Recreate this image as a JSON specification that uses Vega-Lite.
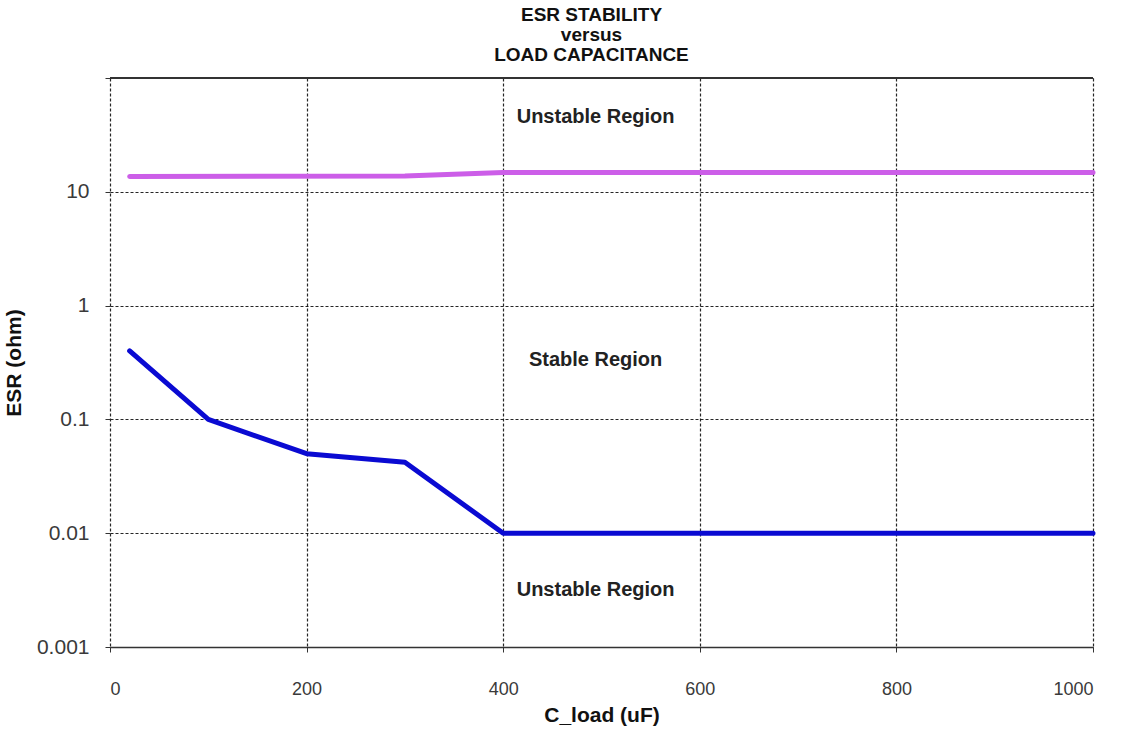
{
  "$schema": "https://vega.github.io/schema/vega-lite/v6.json",
  "width": 983,
  "height": 569,
  "autosize": "none",
  "padding": {"left": 110, "top": 78, "right": 33, "bottom": 85},
  "background": "white",
  "title": {
    "text": ["ESR STABILITY", "versus", "LOAD CAPACITANCE"],
    "font": "Liberation Sans",
    "fontSize": 19,
    "fontWeight": "bold",
    "lineHeight": 20,
    "color": "#111",
    "anchor": "middle",
    "dx": -10,
    "offset": 12
  },
  "config": {
    "view": {"stroke": null},
    "axis": {
      "labelFont": "Liberation Sans",
      "titleFont": "Liberation Sans",
      "labelColor": "#3a3a3a",
      "titleColor": "#111"
    }
  },
  "datasets": {
    "curves": [
      {"C_load": 20, "ESR": 0.4, "series": "lower"},
      {"C_load": 100, "ESR": 0.1, "series": "lower"},
      {"C_load": 200, "ESR": 0.05, "series": "lower"},
      {"C_load": 300, "ESR": 0.042, "series": "lower"},
      {"C_load": 400, "ESR": 0.01, "series": "lower"},
      {"C_load": 1000, "ESR": 0.01, "series": "lower"},
      {"C_load": 20, "ESR": 13.6, "series": "upper"},
      {"C_load": 300, "ESR": 13.8, "series": "upper"},
      {"C_load": 400, "ESR": 14.8, "series": "upper"},
      {"C_load": 1000, "ESR": 14.8, "series": "upper"}
    ],
    "labels": [
      {"C_load": 494, "ESR": 45, "label": "Unstable Region"},
      {"C_load": 494, "ESR": 0.33, "label": "Stable Region"},
      {"C_load": 494, "ESR": 0.0032, "label": "Unstable Region"}
    ]
  },
  "layer": [
    {
      "data": {"name": "curves"},
      "mark": {"type": "line", "strokeWidth": 5, "strokeCap": "round", "strokeJoin": "round"},
      "encoding": {
        "x": {
          "field": "C_load", "type": "quantitative",
          "scale": {"domain": [0, 1000], "nice": false, "zero": false},
          "axis": {
            "title": "C_load (uF)",
            "values": [0, 200, 400, 600, 800, 1000],
            "format": "d",
            "grid": true, "gridDash": [3, 2], "gridColor": "#000", "gridOpacity": 0.85, "gridWidth": 1.2,
            "domain": true, "domainColor": "#333", "domainWidth": 1.5,
            "ticks": true, "tickSize": 5, "tickColor": "#333",
            "labelFontSize": 18, "labelPadding": 28, "labelFontWeight": "normal",
            "titleFontSize": 21, "titleFontWeight": "bold", "titlePadding": 6
          }
        },
        "y": {
          "field": "ESR", "type": "quantitative",
          "scale": {"type": "log", "domain": [0.001, 100], "nice": false},
          "axis": {
            "title": "ESR (ohm)",
            "values": [0.001, 0.01, 0.1, 1, 10, 100],
            "labelExpr": "datum.value >= 100 ? '' : datum.label",
            "format": "~g",
            "grid": true, "gridDash": [3, 2], "gridColor": "#000", "gridOpacity": 0.85, "gridWidth": 1.2,
            "domain": false,
            "ticks": true, "tickSize": 5, "tickColor": "#333",
            "labelFontSize": 21, "labelPadding": 16,
            "titleFontSize": 21, "titleFontWeight": "bold", "titlePadding": 12
          }
        },
        "color": {
          "field": "series", "type": "nominal",
          "scale": {"domain": ["lower", "upper"], "range": ["#0a0ad2", "#cc5ee8"]},
          "legend": null
        }
      }
    },
    {
      "data": {"name": "curves"},
      "mark": {"type": "rule", "color": "#333", "strokeWidth": 1.5},
      "encoding": {
        "y": {"datum": 100, "type": "quantitative"}
      }
    },
    {
      "data": {"name": "labels"},
      "mark": {"type": "text", "font": "Liberation Sans", "fontSize": 20, "fontWeight": "bold", "color": "#222"},
      "encoding": {
        "x": {"field": "C_load", "type": "quantitative"},
        "y": {"field": "ESR", "type": "quantitative"},
        "text": {"field": "label"}
      }
    }
  ]
}
